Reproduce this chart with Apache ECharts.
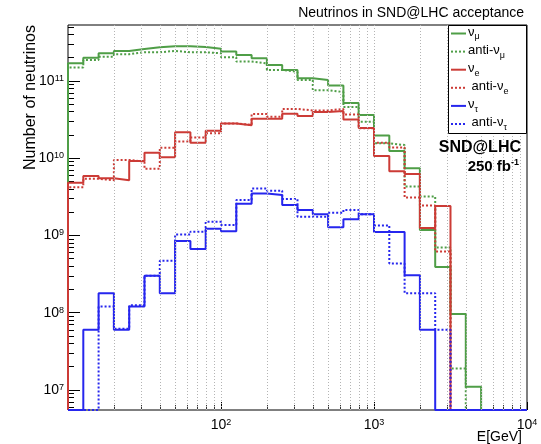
<!DOCTYPE html>
<html>
<head>
<meta charset="utf-8">
<script src="https://cdn.jsdelivr.net/npm/echarts@6/dist/echarts.min.js"></script>
<style>
html, body { margin: 0; padding: 0; background: #fff; }
#chart { width: 541px; height: 444px; }
</style>
</head>
<body>
<div id="chart"></div>
<script>
// low edges of the 30 energy bins (GeV), last bin ends at 10^4
var binLow = [10, 12.59, 15.85, 19.95, 25.12, 31.62, 39.81, 50.12, 63.1, 79.43,
              100, 125.9, 158.5, 199.5, 251.2, 316.2, 398.1, 501.2, 631, 794.3,
              1000, 1259, 1585, 1995, 2512, 3162, 3981, 5012, 6310, 7943];

var numu      = [1.69e11, 2.0e11, 2.28e11, 2.45e11, 2.6e11, 2.73e11, 2.81e11, 2.81e11, 2.75e11, 2.62e11,
                 2.4e11, 2.17e11, 1.97e11, 1.61e11, 1.39e11, 1.08e11, 1.03e11, 8.7e10, 5.2e10, 3.63e10,
                 1.97e10, 1.24e10, 7.4e9, 1.18e9, 3.9e8, 9.6e7, 1.1e7, 0, 0, 0];
var antiNumu  = [1.49e11, 1.87e11, 2.06e11, 2.22e11, 2.35e11, 2.35e11, 2.45e11, 2.35e11, 2.35e11, 2.28e11,
                 2.03e11, 1.78e11, 1.69e11, 1.39e11, 1.31e11, 1.03e11, 7.6e10, 7.2e10, 4.6e10, 2.97e10,
                 1.56e10, 1.48e10, 4.3e9, 3.2e9, 7.0e8, 1.9e7, 0, 0, 0, 0];
var nue       = [4.8e9, 5.9e9, 5.5e9, 5.2e9, 9.2e9, 1.18e10, 1.03e10, 2.17e10, 1.59e10, 2.27e10,
                 2.82e10, 2.67e10, 3.25e10, 3.25e10, 3.77e10, 3.52e10, 3.97e10, 4.09e10, 3.17e10, 2.46e10,
                 1.07e10, 6.8e9, 6.25e9, 1.25e9, 2.41e9, 0, 0, 0, 0, 0];
var antiNue   = [4.2e9, 5.4e9, 5.2e9, 9.5e9, 9.0e9, 7.3e9, 1.37e10, 1.64e10, 1.85e10, 2.1e10,
                 2.82e10, 2.7e10, 3.74e10, 3.45e10, 4.34e10, 4.15e10, 4.15e10, 4.34e10, 3.68e10, 2.44e10,
                 1.59e10, 1.38e10, 3.1e9, 2.44e9, 6.2e8, 0, 0, 0, 0, 0];
var nutau     = [0, 6.0e7, 1.79e8, 6.0e7, 1.2e8, 3.0e8, 1.79e8, 8.5e8, 6.7e8, 1.22e9,
                 1.13e9, 2.58e9, 3.5e9, 3.34e9, 2.48e9, 2.14e9, 1.88e9, 1.28e9, 1.62e9, 1.88e9,
                 1.11e9, 1.11e9, 3.05e8, 6.0e7, 0, 0, 0, 0, 0, 0];
var antiNutau = [0, 0, 1.2e8, 6.2e7, 1.25e8, 3.0e8, 4.7e8, 1.03e9, 1.12e9, 1.5e9,
                 1.37e9, 2.88e9, 4.04e9, 3.8e9, 2.97e9, 1.75e9, 1.75e9, 1.97e9, 2.14e9, 1.88e9,
                 1.35e9, 4.34e8, 1.79e8, 1.79e8, 6.0e7, 0, 0, 0, 0, 0];

var xMajor = [10, 100, 1000, 10000];
var xLabels = [100, 1000, 10000];
var xMinor = [20, 30, 40, 50, 60, 70, 80, 90, 200, 300, 400, 500, 600, 700, 800, 900,
              2000, 3000, 4000, 5000, 6000, 7000, 8000, 9000];
var yMajor = [1e7, 1e8, 1e9, 1e10, 1e11];
var yMinor = [6e6, 7e6, 8e6, 9e6, 2e7, 3e7, 4e7, 5e7, 6e7, 7e7, 8e7, 9e7,
              2e8, 3e8, 4e8, 5e8, 6e8, 7e8, 8e8, 9e8, 2e9, 3e9, 4e9, 5e9, 6e9, 7e9, 8e9, 9e9,
              2e10, 3e10, 4e10, 5e10, 6e10, 7e10, 8e10, 9e10, 2e11, 3e11, 4e11, 5e11];

var xMin = 10, xMax = 10000;
var yMin = 5.5e6, yMax = 5.3e11;

var green = '#4f9e47', red = '#cc3b36', blue = '#2626ee';
var FONT = '"Liberation Sans", Arial, Helvetica, sans-serif';

// legend rows: label text, colour, dotted?
var legendRows = [
    ['{t|ν}{s|μ}', green, false],
    ['{t|anti-ν}{s|μ}', green, true],
    ['{t|ν}{s|e}', red, false],
    ['{t| anti-ν}{s|e}', red, true],
    ['{t|ν}{s|τ}', blue, false],
    ['{t| anti-ν}{s|τ}', blue, true]
];

function hist(vals) {
    var pts = [[binLow[0], yMin]];
    for (var i = 0; i < vals.length; i++) {
        pts.push([binLow[i], vals[i] > 0 ? vals[i] : yMin]);
    }
    var last = vals[vals.length - 1] > 0 ? vals[vals.length - 1] : yMin;
    pts.push([xMax, last]);
    pts.push([xMax, yMin]);
    return pts;
}

function histSeries(name, vals, color, dotted) {
    return {
        name: name,
        type: 'line',
        step: 'end',
        symbol: 'none',
        clip: true,
        z: 3,
        data: hist(vals),
        itemStyle: { color: color },
        lineStyle: { color: color, width: 2, type: dotted ? [2, 2] : 'solid' }
    };
}

function pow10Label(v) {
    var e = Math.round(Math.log(v) / Math.LN10);
    return '{b|10}{s|' + e + '}';
}

function legendGraphics() {
    var els = [{
        type: 'rect',
        z: 50,
        shape: { x: 448.5, y: 25.5, width: 78, height: 108 },
        style: { fill: '#fff', stroke: '#000', lineWidth: 1 }
    }];
    legendRows.forEach(function (row, i) {
        var y = 33.5 + i * 18.1;
        els.push({
            type: 'line',
            z: 51,
            shape: { x1: 451, y1: y, x2: 466, y2: y },
            style: { stroke: row[1], lineWidth: 2, lineDash: row[2] ? [2, 2] : null }
        });
        els.push({
            type: 'text',
            z: 51,
            x: 468, y: y - 8,
            style: {
                text: row[0],
                rich: {
                    t: { font: '13px ' + FONT, fill: '#000', lineHeight: 14, verticalAlign: 'top' },
                    s: { font: '9px ' + FONT, fill: '#000', lineHeight: 9, padding: [7, 0, 0, 0], verticalAlign: 'top' }
                }
            }
        });
    });
    return els;
}

var chart = echarts.init(document.getElementById('chart'));
var option = {
    animation: false,
    backgroundColor: '#fff',
    title: {
        text: 'Neutrinos in SND@LHC acceptance',
        right: 17,
        top: 6,
        padding: 0,
        textStyle: { fontFamily: FONT, fontSize: 14, fontWeight: 'normal', color: '#000' }
    },
    grid: {
        left: 68,
        right: 14,
        top: 25,
        bottom: 34,
        show: true,
        borderColor: '#000',
        borderWidth: 1,
        backgroundColor: 'transparent'
    },
    xAxis: [{
        type: 'log',
        min: xMin,
        max: xMax,
        logBase: 10,
        axisLine: { show: false },
        splitLine: { show: false },
        axisTick: { show: true, inside: true, length: 8, customValues: xMajor, lineStyle: { color: '#000' } },
        axisLabel: {
            show: true,
            margin: 8,
            customValues: xLabels,
            formatter: pow10Label,
            rich: {
                b: { fontFamily: FONT, fontSize: 14, color: '#000' },
                s: { fontFamily: FONT, fontSize: 9, color: '#000', verticalAlign: 'top' }
            }
        }
    }, {
        type: 'log',
        min: xMin,
        max: xMax,
        position: 'bottom',
        axisLine: { show: false },
        splitLine: { show: false },
        axisLabel: { show: false },
        axisTick: { show: true, inside: true, length: 5, customValues: xMinor, lineStyle: { color: '#333' } }
    }],
    yAxis: [{
        type: 'log',
        min: yMin,
        max: yMax,
        logBase: 10,
        axisLine: { show: false },
        splitLine: { show: false },
        axisTick: { show: true, inside: true, length: 12, customValues: yMajor, lineStyle: { color: '#000' } },
        axisLabel: {
            show: true,
            margin: 4,
            customValues: yMajor,
            formatter: pow10Label,
            rich: {
                b: { fontFamily: FONT, fontSize: 14, color: '#000' },
                s: { fontFamily: FONT, fontSize: 9, color: '#000', verticalAlign: 'top' }
            }
        }
    }, {
        type: 'log',
        min: yMin,
        max: yMax,
        position: 'left',
        axisLine: { show: false },
        splitLine: { show: false },
        axisLabel: { show: false },
        axisTick: { show: true, inside: true, length: 6, customValues: yMinor, lineStyle: { color: '#000' } }
    }],
    series: [
        {
            name: 'grid',
            type: 'line',
            data: [],
            z: 1,
            silent: true,
            markLine: {
                silent: true,
                symbol: 'none',
                label: { show: false },
                lineStyle: { color: '#b4b4b4', width: 1, type: [1, 2] },
                data: xMinor.concat([100, 1000]).map(function (v) { return { xAxis: v }; })
            }
        },
        histSeries('nu_mu', numu, green, false),
        histSeries('anti-nu_mu', antiNumu, green, true),
        histSeries('nu_e', nue, red, false),
        histSeries('anti-nu_e', antiNue, red, true),
        histSeries('nu_tau', nutau, blue, false),
        histSeries('anti-nu_tau', antiNutau, blue, true)
    ],
    graphic: legendGraphics().concat([
        {
            type: 'text',
            z: 50,
            x: 31, y: 25,
            rotation: Math.PI / 2,
            style: { text: 'Number of neutrinos', font: '16px ' + FONT, fill: '#000', align: 'right', verticalAlign: 'middle' }
        },
        {
            type: 'text',
            z: 50,
            x: 522, y: 437,
            style: { text: 'E[GeV]', font: '14px ' + FONT, fill: '#000', align: 'right', verticalAlign: 'middle' }
        },
        {
            type: 'text',
            z: 50,
            x: 521, y: 148,
            style: { text: 'SND@LHC', font: 'bold 16px ' + FONT, fill: '#000', align: 'right', verticalAlign: 'middle' }
        },
        {
            type: 'text',
            z: 50,
            x: 519, y: 167,
            style: {
                text: '{b|250 fb}{s|-1}',
                align: 'right',
                verticalAlign: 'middle',
                rich: {
                    b: { font: 'bold 15px ' + FONT, fill: '#000', lineHeight: 18 },
                    s: { font: 'bold 9px ' + FONT, fill: '#000', verticalAlign: 'top' }
                }
            }
        }
    ])
};
chart.setOption(option);
</script>
</body>
</html>
